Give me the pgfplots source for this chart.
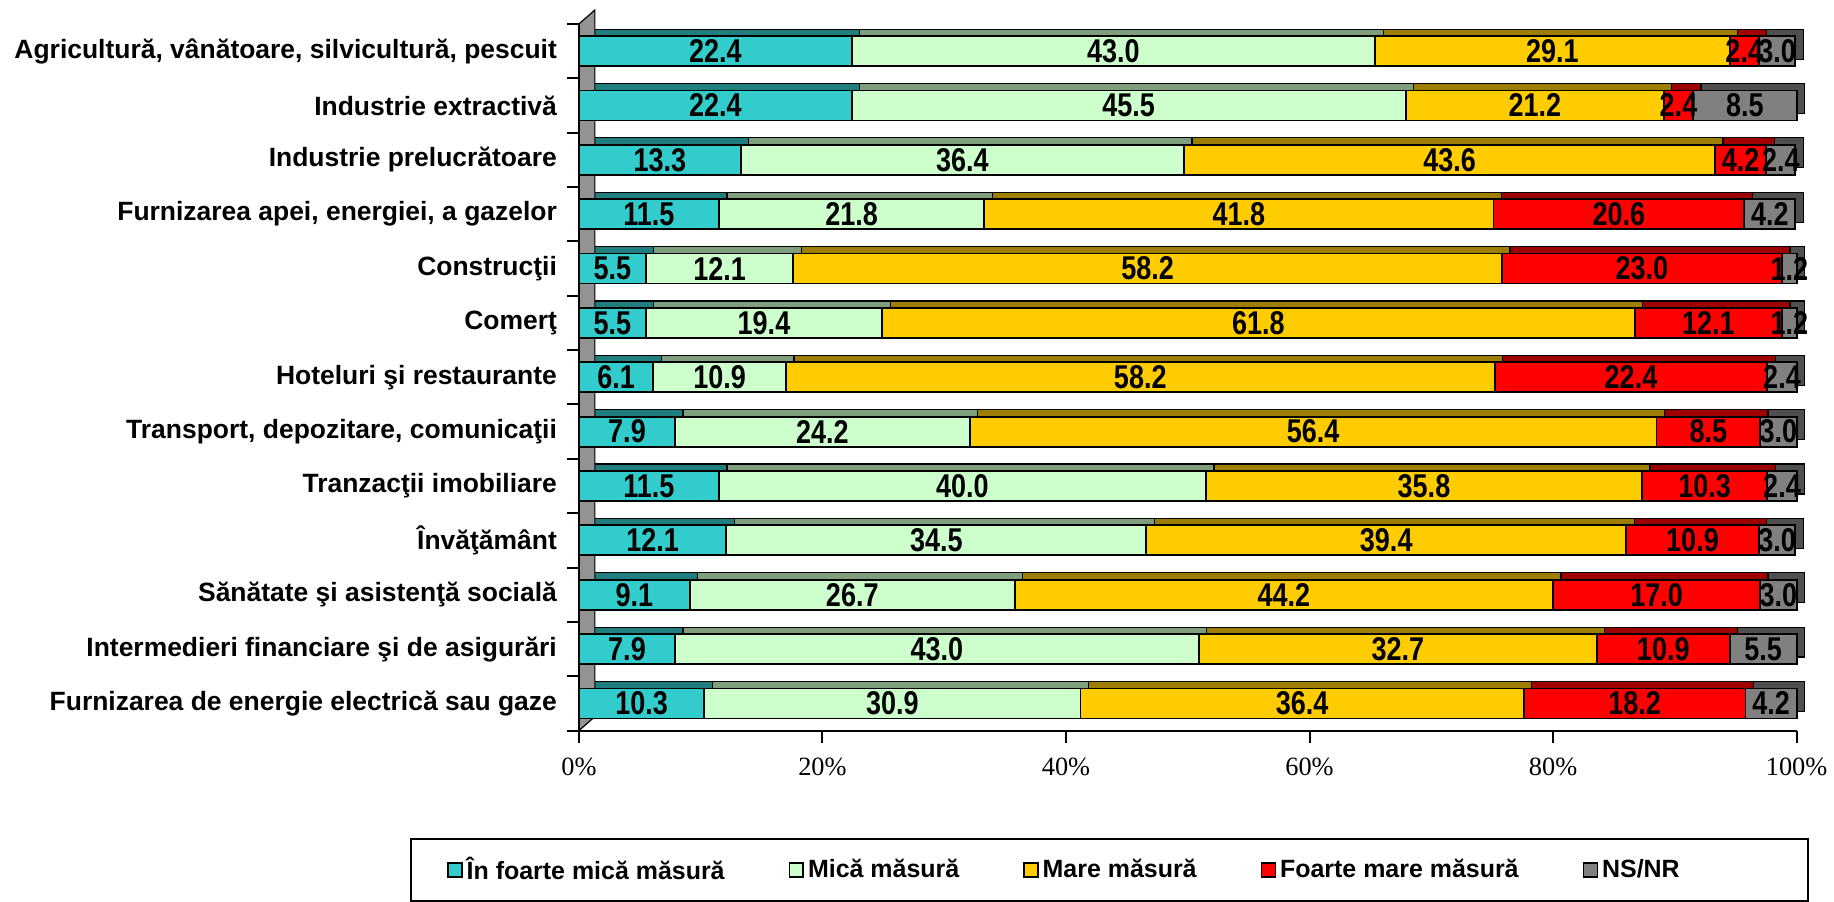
\documentclass[border=0pt]{standalone}
\usepackage{pgfplots}
\pgfplotsset{compat=1.18}
\usepackage{pgfplotstable}
\usepackage{fontspec}
\setmainfont{Liberation Sans}
\newfontfamily\serif{Liberation Serif}
\newfontfamily\lab[FakeStretch=0.82]{Liberation Sans}
\definecolor{cA}{HTML}{33CCCC}
\definecolor{cB}{HTML}{CCFFCC}
\definecolor{cC}{HTML}{FFCC00}
\definecolor{cD}{HTML}{FF0000}
\definecolor{cE}{HTML}{808080}
\pgfplotstableread{
y a b c d e
0 22.4 43.0 29.1 2.4 3.0
1 22.4 45.5 21.2 2.4 8.5
2 13.3 36.4 43.6 4.2 2.4
3 11.5 21.8 41.8 20.6 4.2
4 5.5 12.1 58.2 23.0 1.2
5 5.5 19.4 61.8 12.1 1.2
6 6.1 10.9 58.2 22.4 2.4
7 7.9 24.2 56.4 8.5 3.0
8 11.5 40.0 35.8 10.3 2.4
9 12.1 34.5 39.4 10.9 3.0
10 9.1 26.7 44.2 17.0 3.0
11 7.9 43.0 32.7 10.9 5.5
12 10.3 30.9 36.4 18.2 4.2
}\data
\pgfplotsset{
  frame/.style={scale only axis, width=610pt, height=354pt,
    xmin=0, xmax=100, ymin=-0.5, ymax=12.5, y dir=reverse, clip=false},
  base/.style={frame, xbar stacked, bar width=15pt},
  seg/.style={draw=black, line width=0.9pt, fill=#1,
    legend image code/.code={\draw[fill=#1, draw=black, line width=0.8pt] (0pt,-3.5pt) rectangle (7pt,3.5pt);}},
  back/.style={draw=black, line width=0.6pt, fill=#1!62!black},
  lbl/.style={draw=none, mark=none, nodes near coords, point meta=explicit,
    nodes near coords={\pgfmathprintnumber[fixed,fixed zerofill,precision=1,assume math mode=true]{\pgfplotspointmeta}},
    nodes near coords style={font=\lab\fontsize{16.5}{16}\selectfont\bfseries, anchor=center, inner sep=0pt}},
}
\begin{document}
\begin{tikzpicture}
% depth faces of the bars (same data, drawn behind and offset)
\begin{axis}[base, at={(4pt,3.5pt)}, hide axis]
\fill[gray!85, draw=black, line width=0.6pt] ([xshift=-4pt,yshift=-3.5pt]axis cs:0,12.5) -- ([xshift=4pt,yshift=3.5pt]axis cs:0,12.5) -- ([xshift=4pt,yshift=3.5pt]axis cs:0,-0.5) -- ([xshift=-4pt,yshift=-3.5pt]axis cs:0,-0.5) -- cycle;
\addplot[back=cA] table[x=a, y=y]{\data};
\addplot[back=cB] table[x=b, y=y]{\data};
\addplot[back=cC] table[x=c, y=y]{\data};
\addplot[back=cD] table[x=d, y=y]{\data};
\addplot[back=cE] table[x=e, y=y]{\data};
\end{axis}
\begin{axis}[base,
  axis x line*=bottom, axis y line*=left,
  axis line style={line width=1pt},
  xtick={0,20,...,100}, xticklabels={0\%,20\%,40\%,60\%,80\%,100\%},
  xticklabel style={font=\serif\fontsize{13.2}{14}\selectfont, yshift=-4pt},
  tick align=outside, major tick length=6pt,
  tick style={black, line width=1pt},
  ytick={0,...,12},
  yticklabels={{Agricultură, vânătoare, silvicultură, pescuit},Industrie extractivă,Industrie prelucrătoare,{Furnizarea apei, energiei, a gazelor},Construcţii,Comerţ,Hoteluri şi restaurante,{Transport, depozitare, comunicaţii},Tranzacţii imobiliare,Învăţământ,Sănătate şi asistenţă socială,Intermedieri financiare şi de asigurări,Furnizarea de energie electrică sau gaze},
  yticklabel style={font=\fontsize{13.25}{14}\selectfont\bfseries, xshift=-1.5pt},
  y tick style={draw=none},
  minor ytick={-0.5,0.5,...,12.5},
  minor y tick style={draw=black, line width=1pt},
  minor tick length=6pt,
  legend columns=5,
  legend style={at={(0.4357,-0.1525)}, anchor=north, draw=black, line width=1pt,
    font=\fontsize{12.5}{13}\selectfont\bfseries, inner xsep=18pt, inner ysep=7pt,
    /tikz/every even column/.append style={column sep=30pt}},
  legend cell align=left,
]
\addplot[seg=cA] table[x=a, y=y]{\data};
\addplot[seg=cB] table[x=b, y=y]{\data};
\addplot[seg=cC] table[x=c, y=y]{\data};
\addplot[seg=cD] table[x=d, y=y]{\data};
\addplot[seg=cE] table[x=e, y=y]{\data};
\legend{În foarte mică măsură, Mică măsură, Mare măsură, Foarte mare măsură, \makebox[83pt][l]{NS/NR}}
\end{axis}
% value labels, centred in each segment
\begin{axis}[frame, hide axis]
\addplot[lbl] table[x expr=\thisrow{a}/2, y=y, meta=a]{\data};
\addplot[lbl] table[x expr=\thisrow{a}+\thisrow{b}/2, y=y, meta=b]{\data};
\addplot[lbl] table[x expr=\thisrow{a}+\thisrow{b}+\thisrow{c}/2, y=y, meta=c]{\data};
\addplot[lbl] table[x expr=\thisrow{a}+\thisrow{b}+\thisrow{c}+\thisrow{d}/2, y=y, meta=d]{\data};
\addplot[lbl] table[x expr=\thisrow{a}+\thisrow{b}+\thisrow{c}+\thisrow{d}+\thisrow{e}/2, y=y, meta=e]{\data};
\end{axis}
\path (current axis.north west) ++(-290pt,12pt);
\end{tikzpicture}
\end{document}
